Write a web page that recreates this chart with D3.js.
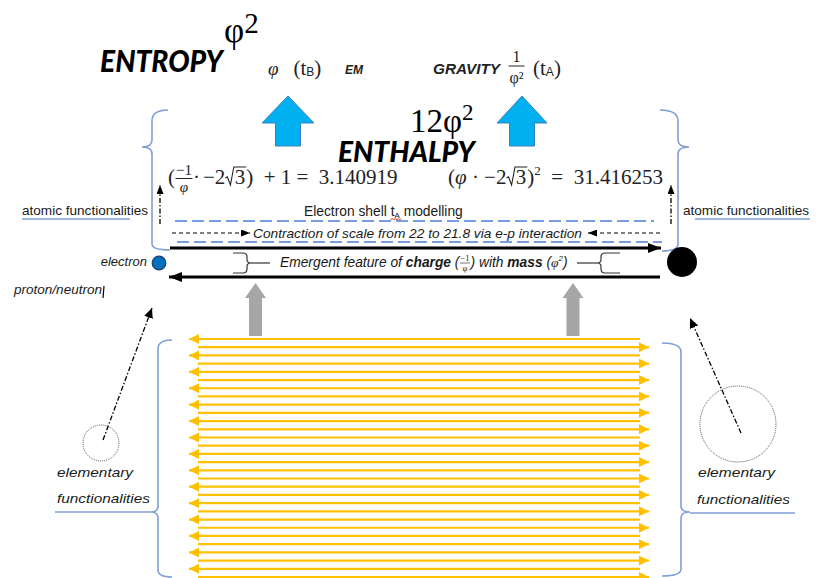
<!DOCTYPE html>
<html><head><meta charset="utf-8">
<script src="https://cdn.jsdelivr.net/npm/d3@7"></script>
<style>body{margin:0;background:#fff;overflow:hidden} svg text{white-space:pre}</style>
</head><body><svg id="c" width="816" height="578"></svg>
<script>
// ---------- data ----------
const flowDirections = ["left","right","left","right","left","right","left","right","left","right",
  "left","right","left","right","left","right","left","right","left","right",
  "left","right","left","right","left","right","left","right","left","right"];
const equationResults = [3.140919, 31.416253];
const titleWords = ["ENTROPY", "ENTHALPY"];
const forceLabels = ["EM", "GRAVITY"];
const sideLabels = ["atomic functionalities", "atomic functionalities"];
const shellLabels = ["Electron shell ", "t", "A", " modelling"];
const contractionLabel = "Contraction of scale from 22 to 21.8 via e-p interaction";
const particleLabels = ["electron", "proton/neutron"];
const elementaryLabels = ["elementary", "functionalities"];

// ---------- setup ----------
const svg = d3.select("#c");
const SANS = "'Liberation Sans', Arial, sans-serif";
const SERIF = "'Liberation Serif', 'DejaVu Serif', serif";
const LATO = "Lato, 'Open Sans', sans-serif";
const INK = "#1a1a1a";
const defs = svg.append("defs");
function marker(id, len, wid, color) {
  defs.append("marker").attr("id", id).attr("viewBox", `0 0 ${len} ${wid}`)
    .attr("refX", len).attr("refY", wid / 2).attr("markerWidth", len).attr("markerHeight", wid)
    .attr("markerUnits", "userSpaceOnUse").attr("orient", "auto-start-reverse")
    .append("path").attr("d", `M0,0L${len},${wid / 2}L0,${wid}Z`).attr("fill", color);
}
marker("yel", 10, 10, "#ffc000");
marker("blk", 13, 10, "#000");
marker("blkS", 9, 7, "#000");
marker("blkD", 10, 9, "#000");

function styleText(t, s) {
  t.style("font-family", s.ff || SANS).style("font-size", (s.fs || 12) + "px")
    .style("font-style", s.it ? "italic" : "normal").style("font-weight", s.b ? "bold" : "normal")
    .attr("fill", s.fill || INK);
  return t;
}
function runText(g, x, y, pieces, base) {
  let cx = x;
  for (const p of pieces) {
    const s = Object.assign({}, base, p);
    if (p.gap) { cx += p.gap; continue; }
    if (p.frac) {
      const fs = s.ffs || s.fs * 0.7;
      const n = styleText(g.append("text").text(p.frac[0]), Object.assign({}, s, { fs: fs, it: p.nit }));
      const d = styleText(g.append("text").text(p.frac[1]), Object.assign({}, s, { fs: fs, it: p.dit }));
      const w = Math.max(n.node().getComputedTextLength(), d.node().getComputedTextLength()) + 2 * (p.pad || 1);
      n.attr("x", cx + w / 2).attr("y", y + p.nDy).attr("text-anchor", "middle");
      d.attr("x", cx + w / 2).attr("y", y + p.dDy).attr("text-anchor", "middle");
      g.append("line").attr("x1", cx + 0.5).attr("x2", cx + w - 0.5).attr("y1", y + p.bDy).attr("y2", y + p.bDy)
        .attr("stroke", s.fill || INK).attr("stroke-width", p.bw || 1);
      cx += w + (p.after || 0);
      continue;
    }
    if (p.sqrt) {
      const h = p.h;
      const t = styleText(g.append("text").text(p.sqrt).attr("x", cx + h * 0.55).attr("y", y), s);
      const w = t.node().getComputedTextLength();
      g.append("path").attr("d", `M${cx},${y - h * 0.35}L${cx + h * 0.12},${y - h * 0.42}L${cx + h * 0.3},${y + 1}L${cx + h * 0.5},${y - h}L${cx + h * 0.55 + w + 1},${y - h}`)
        .attr("fill", "none").attr("stroke", s.fill || INK).attr("stroke-width", 1.1);
      cx += h * 0.55 + w + 1;
      continue;
    }
    const t = styleText(g.append("text").attr("x", cx).attr("y", y + (p.dy || 0)).text(p.t), s);
    cx += t.node().getComputedTextLength() + (p.after || 0);
  }
  return cx;
}
const g = svg.append("g");

// ---------- top titles ----------
styleText(g.append("text").attr("x", 100).attr("y", 72).text(titleWords[0])
  .attr("textLength", 123).attr("lengthAdjust", "spacingAndGlyphs"), { ff: LATO, fs: 30, b: true, it: true, fill: "#000" })
  .style("font-weight", 900);
runText(g, 224, 42, [{ t: "φ", fs: 35 }, { t: "2", fs: 29, dy: -9 }], { ff: SERIF, fill: "#000" });
runText(g, 268, 75, [{ t: "φ", it: true, fs: 19, after: 15 }, { t: "(t", fs: 21 }, { t: "B", ff: SANS, fs: 12, dy: 1 }, { t: ")", fs: 21 }],
  { ff: SERIF, fill: "#222" });
styleText(g.append("text").attr("x", 345).attr("y", 74).text(forceLabels[0]), { fs: 12, b: true, it: true, fill: "#222" });
styleText(g.append("text").attr("x", 433).attr("y", 74).text(forceLabels[1]).attr("textLength", 67)
  .attr("lengthAdjust", "spacingAndGlyphs"), { fs: 15, b: true, it: true, fill: "#222" });
runText(g, 508, 75, [
  { frac: ["1", "φ²"], ffs: 16, nDy: -13, dDy: 8, bDy: -9, pad: 1.5, after: 8 },
  { t: "(t", fs: 21 }, { t: "A", ff: SANS, fs: 12, dy: 1 }, { t: ")", fs: 21 }], { ff: SERIF, fs: 21, fill: "#222" });

// blue up arrows
function upArrow(cx, top, headW, headH, shaftW, bottom, fill, stroke) {
  const d = `M${cx},${top}L${cx + headW / 2},${top + headH}L${cx + shaftW / 2},${top + headH}L${cx + shaftW / 2},${bottom}` +
    `L${cx - shaftW / 2},${bottom}L${cx - shaftW / 2},${top + headH}L${cx - headW / 2},${top + headH}Z`;
  g.append("path").attr("d", d).attr("fill", fill).attr("stroke", stroke || "none").attr("stroke-width", 1);
}
upArrow(288, 96, 52, 27, 25, 146, "#00b0f0", "#3a7fc0");
upArrow(522, 96, 50, 27, 25, 146, "#00b0f0", "#3a7fc0");

runText(g, 410, 132, [{ t: "12φ", fs: 33 }, { t: "2", fs: 23, dy: -12 }], { ff: SERIF, fill: "#000" });
styleText(g.append("text").attr("x", 338).attr("y", 162).text(titleWords[1])
  .attr("textLength", 137).attr("lengthAdjust", "spacingAndGlyphs"), { ff: LATO, fs: 29, b: true, it: true, fill: "#000" })
  .style("font-weight", 900);

// equations
const eqBase = { ff: SERIF, fs: 21, fill: "#222" };
runText(g, 168, 184, [
  { t: "(" },
  { frac: ["−1", "φ"], ffs: 15, nit: false, dit: true, nDy: -9, dDy: 8, bDy: -5.5, pad: 1 },
  { t: "·" , after: 3}, { t: "−2" }, { sqrt: "3", h: 17 }, { t: ")" }, { t: "  + 1 =  " },
  { t: String(equationResults[0]) }], eqBase);
runText(g, 448, 184, [
  { t: "(" }, { t: "φ", it: true }, { t: " · −2" }, { sqrt: "3", h: 17 }, { t: ")" }, { t: "2", fs: 13, dy: -9 },
  { t: "  =  " }, { t: String(equationResults[1]) }], eqBase);

// ---------- braces ----------
const BR = "#7f9fd6";
function bpath(d) { g.append("path").attr("d", d).attr("fill", "none").attr("stroke", BR).attr("stroke-width", 1.6); }
bpath("M168,110Q152,110 152,121L152,140Q152,147 142,147Q152,147 152,154L152,244Q152,250 170,250");
bpath("M660,110Q678,110 678,121L678,140Q678,147 689,147Q678,147 678,154L678,244Q678,251 662,251");
bpath("M172,340Q158,340 158,349L158,506Q158,512 151,512Q158,512 158,518L158,570Q158,577 172,577");
bpath("M662,343Q681,343 681,352L681,506Q681,512 690,512Q681,512 681,518L681,569Q681,576 662,576");
bpath("M55,512L151,512");
bpath("M690,513L795,513");
bpath("M22,219L130,219");
bpath("M695,219L810,219");

// side labels
styleText(g.append("text").attr("x", 22).attr("y", 215).text(sideLabels[0]).attr("textLength", 126).attr("lengthAdjust", "spacingAndGlyphs"), { fs: 13 });
styleText(g.append("text").attr("x", 683).attr("y", 215).text(sideLabels[1]).attr("textLength", 126).attr("lengthAdjust", "spacingAndGlyphs"), { fs: 13 });

// small dash-dot up arrows
[160, 671].forEach(x => g.append("line").attr("x1", x).attr("x2", x).attr("y1", 224).attr("y2", 185)
  .attr("stroke", "#000").attr("stroke-width", 1.3).attr("stroke-dasharray", "5,2,1.5,2").attr("marker-end", "url(#blkS)"));

// blue dashed lines
const BD = "#4a7fd6";
g.append("line").attr("x1", 175).attr("x2", 654).attr("y1", 221).attr("y2", 221).attr("stroke", BD).attr("stroke-width", 1.3).attr("stroke-dasharray", "12,5");
g.append("line").attr("x1", 177).attr("x2", 662).attr("y1", 242).attr("y2", 242).attr("stroke", BD).attr("stroke-width", 1.3).attr("stroke-dasharray", "12,5");

// Electron shell label
const shellBase = { fs: 13.8 };
const sx1 = runText(g, 304, 216, [{ t: shellLabels[0] }], shellBase);
const sx2 = runText(g, sx1, 216, [{ t: shellLabels[1] }, { t: shellLabels[2], fs: 8, dy: 2 }], shellBase);
runText(g, sx2, 216, [{ t: shellLabels[3] }], shellBase);
const sq = d3.path();
sq.moveTo(sx1, 220);
for (let x = sx1, k = 0; x < sx2; x += 1.5, k++) sq.lineTo(x + 1.5, k % 2 ? 220 : 218.5);
g.append("path").attr("d", sq.toString()).attr("fill", "none").attr("stroke", "#e02020").attr("stroke-width", 1);

// contraction arrows + label
g.append("line").attr("x1", 172).attr("x2", 250).attr("y1", 233).attr("y2", 233).attr("stroke", "#000").attr("stroke-width", 1.2)
  .attr("stroke-dasharray", "4,3").attr("marker-end", "url(#blkS)");
g.append("line").attr("x1", 660).attr("x2", 588).attr("y1", 233).attr("y2", 233).attr("stroke", "#000").attr("stroke-width", 1.2)
  .attr("stroke-dasharray", "4,3").attr("marker-end", "url(#blkS)");
styleText(g.append("text").attr("x", 253).attr("y", 238).text(contractionLabel).attr("textLength", 329).attr("lengthAdjust", "spacingAndGlyphs"), { fs: 13, it: true });

// black arrows
g.append("line").attr("x1", 170).attr("x2", 661).attr("y1", 248).attr("y2", 248).attr("stroke", "#000").attr("stroke-width", 3.2).attr("marker-end", "url(#blk)");
g.append("line").attr("x1", 660).attr("x2", 169).attr("y1", 277).attr("y2", 277).attr("stroke", "#000").attr("stroke-width", 3.2).attr("marker-end", "url(#blk)");

// emergent feature brackets
const BK = "#333";
function kpath(d) { g.append("path").attr("d", d).attr("fill", "none").attr("stroke", BK).attr("stroke-width", 1.2); }
kpath("M233,253L243,253Q247,253 247,257L247,259.5Q247,263 251,263Q247,263 247,266.5L247,269Q247,273 243,273L233,273");
kpath("M251,263L270,263");
kpath("M577,263L597,263");
kpath("M620,253L605,253Q601,253 601,257L601,259.5Q601,263 597,263Q601,263 601,266.5L601,269Q601,273 605,273L620,273");
runText(g, 280, 267, [
  { t: "Emergent feature of " }, { t: "charge", b: true }, { t: " (" },
  { frac: ["−1", "φ"], ffs: 8.5, nDy: -6, dDy: 4, bDy: -4, bw: 0.6, pad: 1, ff: SERIF },
  { t: ") with " }, { t: "mass", b: true }, { t: " (" }, { t: "φ", ff: SERIF, fs: 13.5 }, { t: "2", fs: 8, dy: -6 }, { t: ")" }],
  { fs: 13.8, it: true });

// particles
styleText(g.append("text").attr("x", 147).attr("y", 266).attr("text-anchor", "end").text(particleLabels[0]), { fs: 13, it: true });
g.append("circle").attr("cx", 159).attr("cy", 263).attr("r", 6.8).attr("fill", "#0070c0").attr("stroke", "#203864").attr("stroke-width", 1.2);
g.append("circle").attr("cx", 682).attr("cy", 262).attr("r", 15).attr("fill", "#000");
styleText(g.append("text").attr("x", 14).attr("y", 294).text(particleLabels[1]).attr("textLength", 88).attr("lengthAdjust", "spacingAndGlyphs"), { fs: 12.5, it: true });
g.append("line").attr("x1", 104).attr("x2", 103).attr("y1", 286).attr("y2", 298).attr("stroke", "#000").attr("stroke-width", 1.2);

// gray arrows
upArrow(255.5, 283, 21, 15, 13, 336, "#a6a6a6");
upArrow(573, 283, 21, 15, 13, 336, "#a6a6a6");

// ---------- yellow flow lines ----------
const yFlow = d3.scaleLinear().domain([0, flowDirections.length - 1]).range([339, 577]);
const xFlow = d3.scaleOrdinal().domain(["left", "right"]).range([[640, 189], [198, 649]]);
g.append("g").selectAll("line").data(flowDirections).join("line")
  .attr("x1", d => xFlow(d)[0]).attr("x2", d => xFlow(d)[1])
  .attr("y1", (d, i) => yFlow(i)).attr("y2", (d, i) => yFlow(i))
  .attr("stroke", "#ffc000").attr("stroke-width", 2.2).attr("marker-end", "url(#yel)");

// ---------- elementary functionalities ----------
g.append("circle").attr("cx", 101).attr("cy", 443).attr("r", 18).attr("fill", "none").attr("stroke", "#555").attr("stroke-width", 1).attr("stroke-dasharray", "1,1");
g.append("circle").attr("cx", 738).attr("cy", 424).attr("r", 38).attr("fill", "none").attr("stroke", "#555").attr("stroke-width", 1).attr("stroke-dasharray", "1,1");
g.append("line").attr("x1", 103).attr("y1", 440).attr("x2", 152).attr("y2", 308).attr("stroke", "#000").attr("stroke-width", 1.3)
  .attr("stroke-dasharray", "5,2,1.5,2").attr("marker-end", "url(#blkD)");
g.append("line").attr("x1", 741).attr("y1", 433).attr("x2", 690).attr("y2", 318).attr("stroke", "#000").attr("stroke-width", 1.3)
  .attr("stroke-dasharray", "5,2,1.5,2").attr("marker-end", "url(#blkD)");
styleText(g.append("text").attr("x", 57).attr("y", 477).text(elementaryLabels[0]).attr("textLength", 76).attr("lengthAdjust", "spacingAndGlyphs"), { fs: 13, it: true });
styleText(g.append("text").attr("x", 57).attr("y", 503).text(elementaryLabels[1]).attr("textLength", 93).attr("lengthAdjust", "spacingAndGlyphs"), { fs: 13, it: true });
styleText(g.append("text").attr("x", 698).attr("y", 477).text(elementaryLabels[0]).attr("textLength", 77).attr("lengthAdjust", "spacingAndGlyphs"), { fs: 13, it: true });
styleText(g.append("text").attr("x", 697).attr("y", 504).text(elementaryLabels[1]).attr("textLength", 93).attr("lengthAdjust", "spacingAndGlyphs"), { fs: 13, it: true });
</script></body></html>
